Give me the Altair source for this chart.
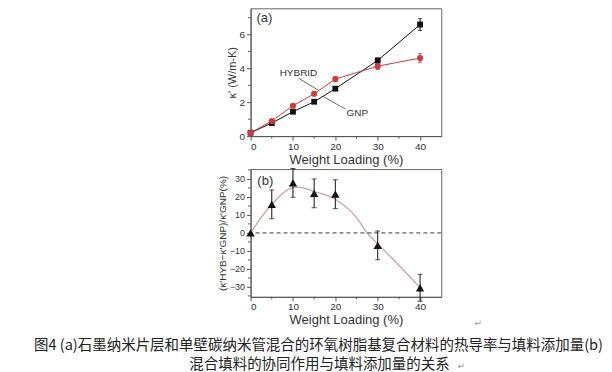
import altair as alt
import pandas as pd

# ---------- data ----------
loading = [0, 5, 10, 15, 20, 30, 40]
gnp = [0.2, 0.77, 1.44, 2.03, 2.8, 4.47, 6.59]
gnp_err = [0.05, 0.08, 0.1, 0.1, 0.1, 0.15, 0.35]
hybrid = [0.2, 0.89, 1.79, 2.5, 3.37, 4.13, 4.61]
hybrid_err = [0.05, 0.08, 0.1, 0.1, 0.15, 0.2, 0.27]

syn = [0, 15.9, 27.8, 22.0, 21.5, -6.9, -30.5]
syn_err = [0, 8, 8, 8, 8, 8, 7.5]
fit_x = [0, 5, 10, 11.4, 15, 20, 25, 27.5, 30, 35, 40]
fit_y = [0, 15.9, 25.2, 25.5, 23.0, 18.7, 8.5, 0, -6.0, -18.0, -30.5]

x_ticks = [0, 10, 20, 30, 40]
x_minor = [5, 15, 25, 35]
ya_ticks = [0, 2, 4, 6]
ya_minor = [1, 3, 5, 7]
yb_ticks = [-30, -20, -10, 0, 10, 20, 30]
yb_minor = [-35, -25, -15, -5, 5, 15, 25, 35]

caption1 = "图4 (a)石墨纳米片层和单壁碳纳米管混合的环氧树脂基复合材料的热导率与填料添加量(b)"
caption2 = "混合填料的协同作用与填料添加量的关系"

W, H = 191, 128
AX = "#555555"
RED = "#d03a3a"
FONT = "Liberation Sans"

dfa = pd.DataFrame({
    "x": loading * 2,
    "y": gnp + hybrid,
    "err": gnp_err + hybrid_err,
    "s": ["GNP"] * 7 + ["HYBRID"] * 7,
})
dfa["lo"] = dfa["y"] - dfa["err"]
dfa["hi"] = dfa["y"] + dfa["err"]

xs = alt.Scale(domain=[0, 45], nice=False, zero=False)
ys_a = alt.Scale(domain=[0, 7.55], nice=False, zero=False)
ys_b = alt.Scale(domain=[-35.5, 35.5], nice=False, zero=False)
col = alt.Color("s:N", scale=alt.Scale(domain=["GNP", "HYBRID"], range=["#111111", RED]), legend=None)

x_axis = alt.Axis(values=x_ticks, title="Weight Loading (%)", titleFontSize=13, labelOverlap=False,
                  labelPadding=1, titlePadding=2)
y_axis_a = alt.Axis(values=ya_ticks, title="κ' (W/m-K)", titleFontSize=11, labelOverlap=False)
y_axis_b = alt.Axis(values=yb_ticks, title="(κ'HYB−κ'GNP)/κ'GNP(%)", titleFontSize=10,
                    labelFontSize=9, labelOverlap=False)


def X(f="x:Q"):
    return alt.X(f, scale=xs, axis=x_axis)


def YA(f="y:Q"):
    return alt.Y(f, scale=ys_a, axis=y_axis_a)


def YB(f="y:Q"):
    return alt.Y(f, scale=ys_b, axis=y_axis_b)


base_a = alt.Chart(dfa)
lines_a = base_a.mark_line(strokeWidth=1).encode(x=X(), y=YA(), color=col, detail="s:N")
err_a = base_a.mark_errorbar(ticks=alt.TickConfig(size=4)).encode(
    x=X(), y=YA("lo:Q"), y2="hi:Q", color=col)
pts_gnp = alt.Chart(dfa[dfa.s == "GNP"]).mark_point(shape="square", filled=True, size=34, opacity=1).encode(
    x=X(), y=YA(), color=col)
pts_hyb = alt.Chart(dfa[dfa.s == "HYBRID"]).mark_point(shape="circle", filled=True, size=38, opacity=1).encode(
    x=X(), y=YA(), color=col)

lab_a = pd.DataFrame({"x": [11.3, 25.2], "y": [3.72, 1.36], "t": ["HYBRID", "GNP"]})
labels_a = alt.Chart(lab_a).mark_text(font=FONT, fontSize=10, color="#333").encode(
    x=X(), y=YA(), text="t:N")
lead_a = pd.DataFrame({"x": [11.3, 17.0], "y": [3.42, 2.36], "x2": [16.0, 22.4], "y2": [2.71, 1.59]})
leaders_a = alt.Chart(lead_a).mark_rule(color="#444", strokeWidth=0.8).encode(
    x=X(), y=YA(), x2="x2:Q", y2="y2:Q")
tag_a = alt.Chart(pd.DataFrame({"x": [1.4], "y": [6.96], "t": ["(a)"]})).mark_text(
    font=FONT, fontSize=13, align="left", color="#333").encode(x=X(), y=YA(), text="t:N")

minor_xa = alt.Chart(pd.DataFrame({"x": x_minor})).mark_rule(color=AX).encode(
    x=X(), y=alt.value(H), y2=alt.value(H + 2.5))
minor_ya = alt.Chart(pd.DataFrame({"y": ya_minor})).mark_rule(color=AX).encode(
    y=YA(), x=alt.value(0), x2=alt.value(-2.5))

panel_a = alt.layer(lines_a, err_a, pts_gnp, pts_hyb, leaders_a, labels_a, tag_a, minor_xa, minor_ya).properties(
    width=W, height=H)

# ---------- panel b ----------
dfb = pd.DataFrame({"x": loading, "y": syn, "err": syn_err})
dfb["lo"] = dfb["y"] - dfb["err"]
dfb["hi"] = dfb["y"] + dfb["err"]
dff = pd.DataFrame({"x": fit_x, "y": fit_y})

fit = alt.Chart(dff).mark_line(color="#c9a3a6", strokeWidth=1.3, interpolate="monotone").encode(
    x=X(), y=YB())
zero = alt.Chart(pd.DataFrame({"y": [0]})).mark_rule(color="#222", strokeDash=[4, 3], strokeWidth=0.9).encode(
    y=YB())
err_b = alt.Chart(dfb[dfb.err > 0]).mark_errorbar(ticks=alt.TickConfig(size=5), color="#111").encode(
    x=X(), y=YB("lo:Q"), y2="hi:Q")
pts_b = alt.Chart(dfb).mark_point(shape="triangle-up", filled=True, size=70, color="#111", opacity=1).encode(
    x=X(), y=YB())
tag_b = alt.Chart(pd.DataFrame({"x": [1.6], "y": [28.9], "t": ["(b)"]})).mark_text(
    font=FONT, fontSize=13, align="left", color="#333").encode(x=X(), y=YB(), text="t:N")
minor_xb = alt.Chart(pd.DataFrame({"x": x_minor})).mark_rule(color=AX).encode(
    x=X(), y=alt.value(H), y2=alt.value(H + 2.5))
minor_yb = alt.Chart(pd.DataFrame({"y": yb_minor})).mark_rule(color=AX).encode(
    y=YB(), x=alt.value(0), x2=alt.value(-2.5))

cap1 = alt.Chart(pd.DataFrame({"t": [caption1]})).mark_text(
    font="Noto Sans CJK SC", fontSize=14.5, color="#222", align="center", baseline="middle").encode(
    text="t:N", x=alt.value(68), y=alt.value(177))
cap2 = alt.Chart(pd.DataFrame({"t": [caption2]})).mark_text(
    font="Noto Sans CJK SC", fontSize=14.5, color="#222", align="center", baseline="middle").encode(
    text="t:N", x=alt.value(69), y=alt.value(196))
ret1 = alt.Chart(pd.DataFrame({"t": ["↵"]})).mark_text(
    font="DejaVu Sans", fontSize=9, color="#999").encode(text="t:N", x=alt.value(228), y=alt.value(154))
ret2 = alt.Chart(pd.DataFrame({"t": ["↵"]})).mark_text(
    font="DejaVu Sans", fontSize=9, color="#999").encode(text="t:N", x=alt.value(211), y=alt.value(197))
# invisible (white) anchor fixing the left edge of the page layout
anchor = alt.Chart(pd.DataFrame({"a": [0]})).mark_rule(color="white", strokeWidth=1).encode(
    x=alt.value(-242), x2=alt.value(-239), y=alt.value(100))

panel_b = alt.layer(fit, zero, err_b, pts_b, tag_b, minor_xb, minor_yb, cap1, cap2, ret1, ret2, anchor).properties(
    width=W, height=H)

chart = alt.vconcat(panel_a, panel_b, spacing=33, bounds="flush").properties(
    padding={"left": 0, "top": -1, "right": 0, "bottom": 0},
    background="white",
).configure_view(stroke="#666666", strokeWidth=1).configure_axis(
    domainColor=AX, tickColor=AX, labelColor="#333", titleColor="#333",
    labelFont=FONT, titleFont=FONT, labelFontSize=10, titleFontWeight="normal",
    grid=False, tickSize=4, labelPadding=2, titlePadding=2,
)

chart.save("out.html", embed_options={"renderer": "svg", "actions": False})
